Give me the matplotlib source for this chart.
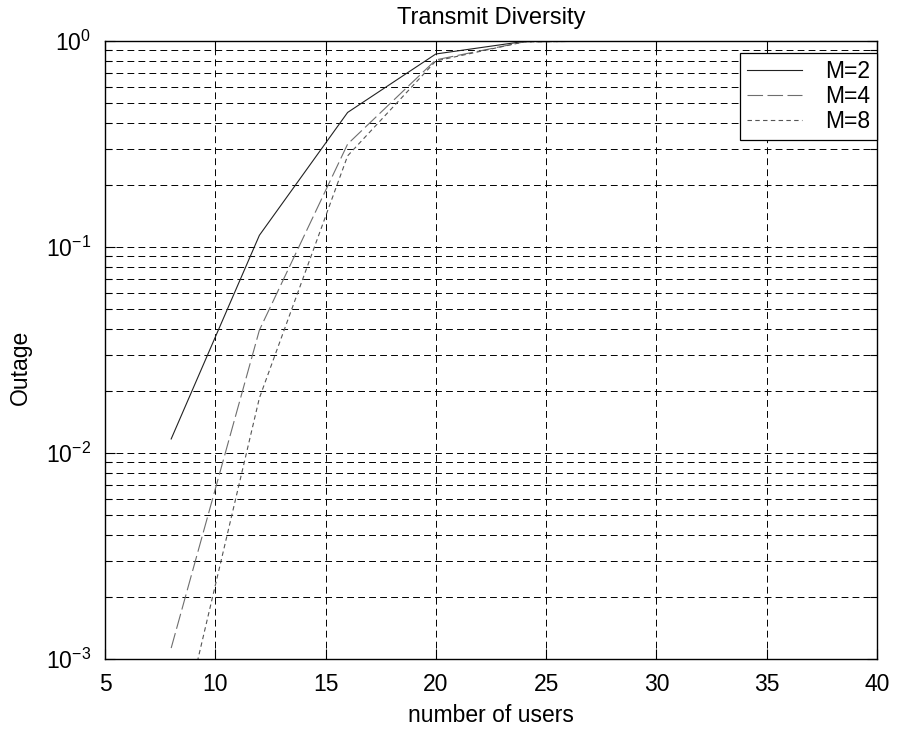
import numpy as np
import matplotlib
matplotlib.use('Agg')
import matplotlib.pyplot as plt
from matplotlib.ticker import LogLocator, FixedLocator

plt.rcParams['font.family'] = ['Liberation Sans', 'DejaVu Sans']
plt.rcParams['mathtext.fontset'] = 'custom'
plt.rcParams['mathtext.rm'] = 'Liberation Sans'
plt.rcParams['mathtext.it'] = 'Liberation Sans'
plt.rcParams['mathtext.bf'] = 'Liberation Sans'

# number of users
users = [8, 12, 16, 20, 24, 28, 32, 36, 40]
# outage probability per diversity order
out_m2 = [0.0117, 0.114, 0.45, 0.865, 0.995, 1.0, 1.0, 1.0, 1.0]
out_m4 = [0.00113, 0.0395, 0.316, 0.81, 0.99, 1.0, 1.0, 1.0, 1.0]
out_m8 = [0.00028, 0.0185, 0.277, 0.80, 0.99, 1.0, 1.0, 1.0, 1.0]
labels = ['M=2', 'M=4', 'M=8']

fig = plt.figure(figsize=(9.06, 7.29), dpi=100)
ax = fig.add_axes([105/906, 1-659/729, (877-105)/906, (659-41)/729])

ax.plot(users, out_m2, color='#222222', lw=0.8, label=labels[0])
ax.plot(users, out_m4, color='#6e6e6e', lw=0.8, dashes=(14, 4), label=labels[1])
ax.plot(users, out_m8, color='#555555', lw=0.8, dashes=(4, 3), label=labels[2])

ax.set_yscale('log')
ax.set_xlim(5, 40)
ax.set_ylim(1e-3, 1)
ax.xaxis.set_major_locator(FixedLocator([5, 10, 15, 20, 25, 30, 35, 40]))
ax.yaxis.set_major_locator(LogLocator(base=10, numticks=10))
ax.yaxis.set_minor_locator(LogLocator(base=10, subs=np.arange(2, 10), numticks=20))
ax.yaxis.set_minor_formatter(plt.NullFormatter())

ax.grid(True, which='major', axis='both', color='black', lw=0.7, dashes=(7, 4.3))
ax.grid(True, which='minor', axis='y', color='black', lw=0.7, dashes=(7, 4.3))

ax.tick_params(which='both', direction='in', top=True, right=True, labelsize=16.5)
ax.tick_params(which='major', length=7, width=0.8, pad=10)
ax.tick_params(which='minor', length=5, width=0.8)
for s in ax.spines.values():
    s.set_linewidth(1.0)
    s.set_color('black')

ax.set_title('Transmit Diversity', fontsize=17, pad=12)
ax.set_xlabel('number of users', fontsize=16.5, labelpad=6)
fig.text(20/906, 1-367/729, 'Outage', rotation=90, ha='center', va='center', fontsize=16.5)

leg = ax.legend(loc='upper right', bbox_to_anchor=(1.0, 1-12/618), borderaxespad=0,
                fontsize=16.5, handlelength=2.4, handletextpad=1.0, fancybox=False,
                framealpha=1, edgecolor='black', labelspacing=0.1, borderpad=0.3)
leg.get_frame().set_linewidth(0.9)

fig.savefig('out.png', dpi=100)
